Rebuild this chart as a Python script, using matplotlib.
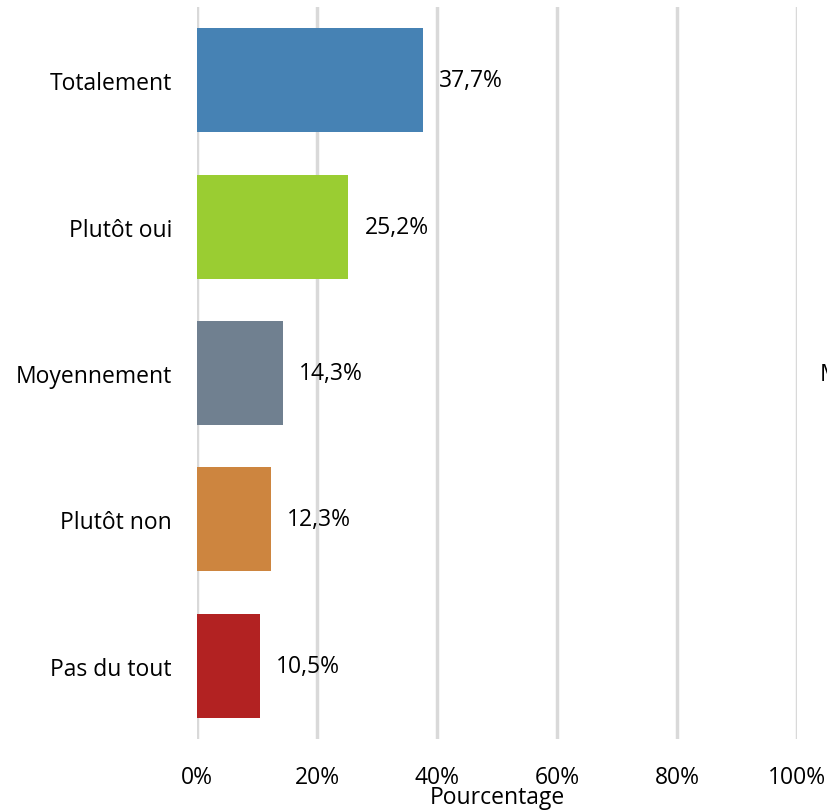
import matplotlib.pyplot as plt
import numpy as np

plt.rcParams['font.family'] = ['Open Sans', 'DejaVu Sans']

# Données
categories = ['Totalement', 'Plutôt oui', 'Moyennement', 'Plutôt non', 'Pas du tout']
valeurs = [37.7, 25.2, 14.3, 12.3, 10.5]
etiquettes = ['37,7%', '25,2%', '14,3%', '12,3%', '10,5%']
couleurs = ['#4682B4', '#9ACD32', '#708090', '#CD853F', '#B22222']
graduations = [0, 20, 40, 60, 80, 100]

fig = plt.figure(figsize=(8.28, 8.12), dpi=100)
ax = fig.add_axes([197 / 828, 1 - 740 / 812, 600 / 828, 732 / 812])

y = np.arange(len(categories))
ax.barh(y, valeurs, height=0.71, color=couleurs, zorder=3)

for yi, v, lab in zip(y, valeurs, etiquettes):
    ax.text(v + 2.7, yi, lab, va='center', ha='left', fontsize=16.5)

ax.set_xlim(0, 100)
ax.set_ylim(4.5, -0.5)
ax.set_yticks(y)
ax.set_yticklabels(categories, fontsize=16.5)
ax.set_xticks(graduations)
ax.set_xticklabels([f'{g}%' for g in graduations], fontsize=16.5)
ax.tick_params(axis='both', length=0)
ax.tick_params(axis='y', pad=18)
ax.tick_params(axis='x', pad=19)
ax.set_xlabel('Pourcentage', fontsize=16.5)
ax.xaxis.set_label_coords(0.5, (740 - 798) / 732, transform=ax.transAxes)
ax.xaxis.label.set_va('center')

ax.grid(axis='x', color='#d9d9d9', linewidth=2.5, zorder=0)
for s in ax.spines.values():
    s.set_visible(False)

# texte coupé au bord droit
fig.text(820 / 828, 1 - 375 / 812, 'Moyenne', fontsize=16.5, va='center', ha='left')

fig.savefig('out.png', dpi=100)
